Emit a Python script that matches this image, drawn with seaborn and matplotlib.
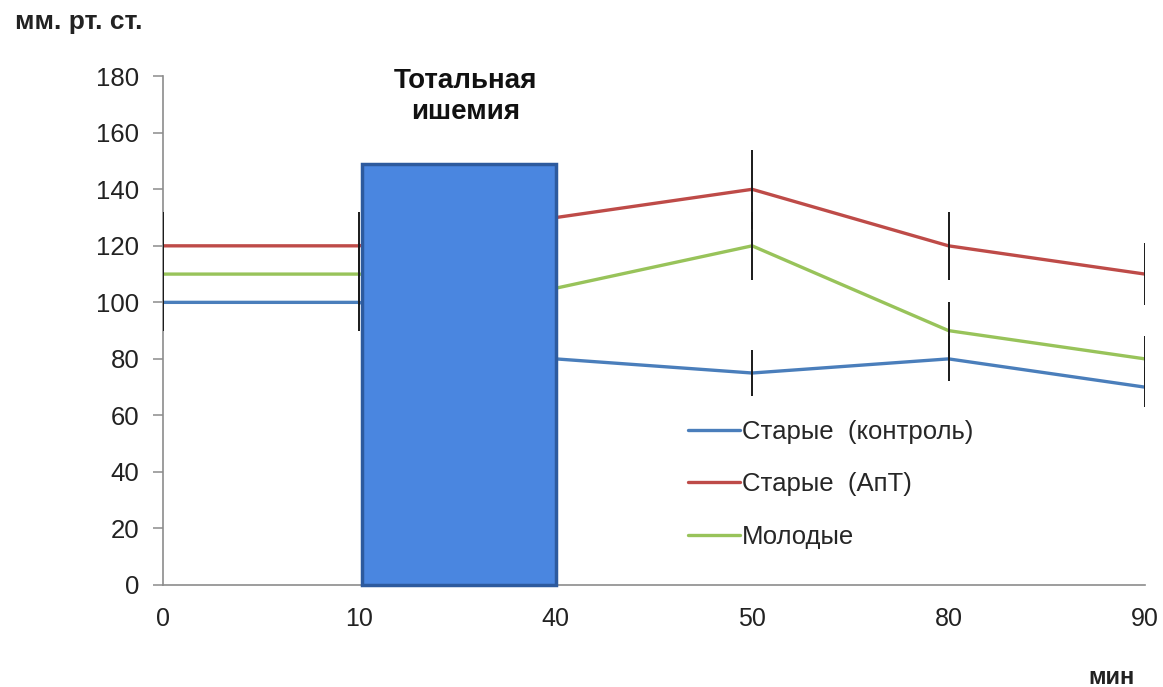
import matplotlib
matplotlib.use("Agg")
import matplotlib.pyplot as plt
from matplotlib.patches import Rectangle
import numpy as np
import pandas as pd
import seaborn as sns

# Time points (minutes), drawn as evenly spaced categories
time_labels = ["0", "10", "40", "50", "80", "90"]

# Mean pressure, mm Hg
control_old = [100, 100, 80, 75, 80, 70]
apt_old = [120, 120, 130, 140, 120, 110]
young = [110, 110, 105, 120, 90, 80]

# Half-width of the error bars (NaN = no bar)
control_err = [10, 10, np.nan, 8, 8, 7]
apt_err = [12, 12, np.nan, 14, 12, 11]
young_err = [11, 11, np.nan, 12, 10, 8]

series_names = ["Старые  (контроль)", "Старые  (АпТ)", "Молодые"]
series_colors = ["#4a7ebb", "#be4b48", "#98c35a"]

# Total ischemia period: spans from the 10-min to the 40-min point
ischemia_from, ischemia_to = 1, 2
ischemia_level = 149

sns.set_theme(style="white")
plt.rcParams["font.family"] = ["Liberation Sans", "DejaVu Sans"]

pos = np.arange(len(time_labels))
df = pd.DataFrame({
    "pos": np.tile(pos, 3),
    "value": control_old + apt_old + young,
    "err": control_err + apt_err + young_err,
    "series": np.repeat(series_names, len(pos)),
})

fig = plt.figure(figsize=(11.63, 6.87), dpi=100)
ax = fig.add_axes([0.140, 0.1485, 0.8445, 0.7405])

sns.lineplot(data=df, x="pos", y="value", hue="series", hue_order=series_names,
             palette=series_colors, linewidth=2.4, ax=ax, legend=True, zorder=2)

# Error bars: plain black vertical strokes, no caps
eb = df.dropna(subset=["err"])
ax.vlines(eb["pos"], eb["value"] - eb["err"], eb["value"] + eb["err"],
          colors="#1a1a1a", linewidth=1.4, zorder=3)

# Ischemia block, nudged off the 10-min error bar so the bar stays visible
x0 = ischemia_from + 0.015
ax.add_patch(Rectangle((x0, 0), ischemia_to - x0, ischemia_level,
                       facecolor="#4a86e0", edgecolor="#2d5a9e", linewidth=2.5,
                       zorder=4, clip_on=False))
ax.text((ischemia_from + ischemia_to) / 2 + 0.04, 173.0, "Тотальная\nишемия",
        ha="center", va="center", fontsize=20, fontweight="bold",
        linespacing=1.25, color="#111111")

ax.set_xlim(0, len(pos) - 1)
ax.set_ylim(0, 180)
ax.set_xticks(pos)
ax.set_xticklabels(time_labels)
ax.set_yticks(np.arange(0, 181, 20))
ax.set_xlabel("")
ax.set_ylabel("")

for side in ["top", "right"]:
    ax.spines[side].set_visible(False)
for side in ["left", "bottom"]:
    ax.spines[side].set_color("#8c8c8c")
    ax.spines[side].set_linewidth(1.2)

ax.tick_params(axis="y", which="both", left=True, length=7, width=1.1,
               color="#8c8c8c", pad=10, labelsize=18.5, labelcolor="#222222")
ax.tick_params(axis="x", which="both", bottom=False, length=0, pad=16,
               labelsize=18, labelcolor="#222222")

leg = ax.legend(loc="upper left", bbox_to_anchor=(0.535, 0.325), frameon=False,
                fontsize=18.5, handlelength=2.0, handletextpad=0.08,
                labelspacing=1.12, borderpad=0, borderaxespad=0)
for line in leg.get_lines():
    line.set_linewidth(2.4)

fig.text(15 / 1163, 1 - 22 / 687, "мм. рт. ст.", fontsize=19, fontweight="bold",
         ha="left", va="center", color="#222222")
fig.text(1135 / 1163, 1 - 677 / 687, "мин", fontsize=17, fontweight="bold",
         ha="right", va="center", color="#222222")

fig.savefig("out.png", dpi=100)
